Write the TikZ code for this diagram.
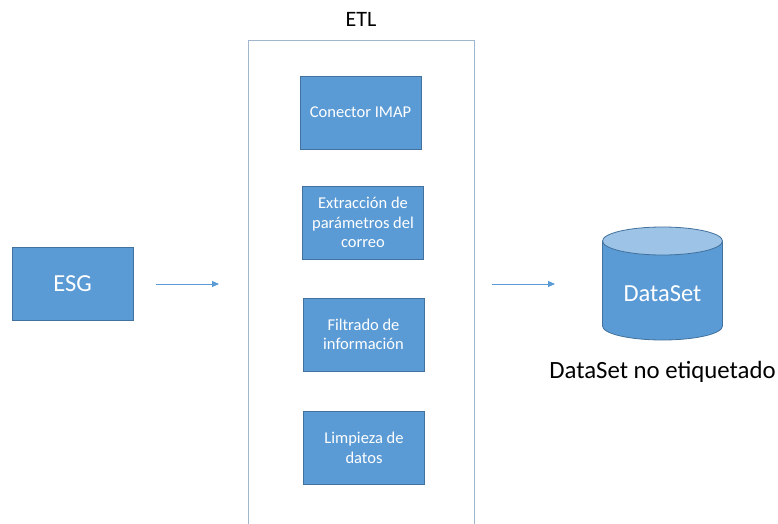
\documentclass[tikz,border=0pt]{standalone}
\usepackage{fontspec}
\setmainfont{Carlito}
\usetikzlibrary{arrows.meta}
\definecolor{boxfill}{HTML}{5B9BD5}
\definecolor{boxline}{HTML}{41719C}
\definecolor{capfill}{HTML}{9DC3E6}
\definecolor{etlline}{HTML}{9FB6CD}
\tikzset{
  procbox/.style={draw=boxline, line width=0.8pt, fill=boxfill, text=white,
    minimum width=121pt, minimum height=73pt, align=center, inner sep=2pt,
    font=\fontsize{16.5}{19.5}\selectfont},
  flow/.style={draw=boxfill, line width=0.9pt, -{Triangle[width=6pt,length=7pt]}}
}
\begin{document}
\begin{tikzpicture}[x=1pt,y=-1pt]
\useasboundingbox (0,0) rectangle (778,524);
\fill[white] (0,0) rectangle (778,524);

% ETL frame, open at the bottom
\draw[etlline, line width=0.9pt] (248,526) -- (248,40) -- (474,40) -- (474,526);
\node (etl) at (361,19) {\fontsize{22}{26}\selectfont ETL};

% stages
\node[procbox, font=\fontsize{24.5}{28}\selectfont] (esg) at (72.5,284) {ESG};
\node[procbox] (imap) at (360.5,112.5) {Conector IMAP};
\node[procbox] (extr) at (363,222.5) {Extracción de\\parámetros del\\correo};
\node[procbox] (filt) at (363.5,334.5) {Filtrado de\\información};
\node[procbox] (limp) at (364,448) {Limpieza de\\datos};

% dataset cylinder
\def\cx{662.5}\def\rx{60}\def\ry{14}\def\ytop{241}\def\ybot{326}
\draw[boxline, line width=0.8pt, fill=boxfill]
  (\cx-\rx,\ytop) -- (\cx-\rx,\ybot)
  arc[start angle=180, end angle=360, x radius=\rx, y radius=-\ry]
  -- (\cx+\rx,\ytop);
\draw[boxline, line width=0.8pt, fill=capfill]
  (\cx,\ytop) ellipse [x radius=\rx, y radius=\ry];
\node[text=white, font=\fontsize{24.5}{28}\selectfont] (ds) at (\cx,294) {DataSet};
\node[font=\fontsize{24.8}{29}\selectfont] (dslabel) at (\cx,372) {DataSet no etiquetado};

% flow arrows
\coordinate (a1s) at (156,284);
\coordinate (a1e) at (219,284);
\coordinate (a2s) at (492,284);
\coordinate (a2e) at (555,284);
\draw[flow] (a1s) -- (a1e);
\draw[flow] (a2s) -- (a2e);
\end{tikzpicture}
\end{document}
